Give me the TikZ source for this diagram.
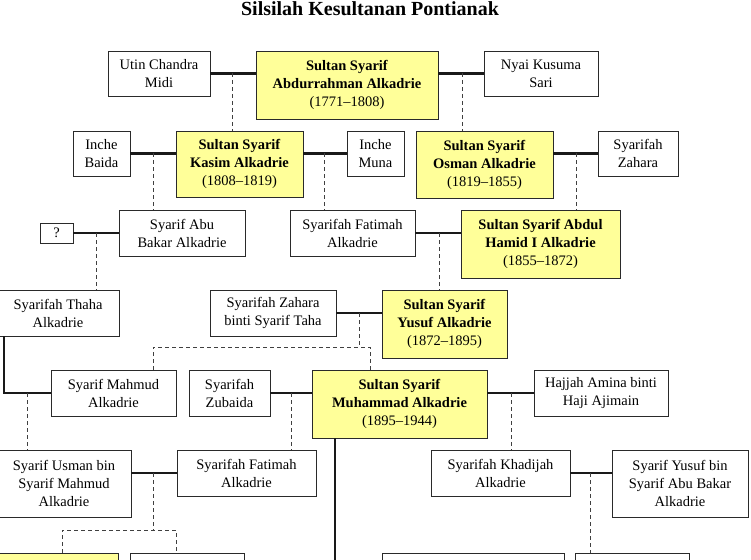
\documentclass[tikz,border=0pt]{standalone}
\usepackage{fontspec}
\setmainfont{Liberation Serif}
\definecolor{sultanyellow}{HTML}{FFFF99}
\definecolor{boxline}{HTML}{2A2A2A}
\newcommand\pbx[7]{%
  \node[#6, minimum width={#3pt-#2pt}, minimum height={#5pt-#4pt}]
    (#1) at ({(#2+#3)/2},{-(#4+#5)/2}) {#7};}
\tikzset{
  pnode/.style={draw=boxline, line width=0.9pt, fill=white, inner sep=0pt, outer sep=0pt,
    align=center, font=\fontsize{14.5}{18}\selectfont},
  sultan/.style={pnode, fill=sultanyellow},
  marr/.style={line width=2.6pt, draw=black!90},
  desc/.style={line width=0.8pt, dash pattern=on 4pt off 3pt, draw=black!75},
  ttl/.style={font=\bfseries\fontsize{20}{24}\selectfont, anchor=base}
}
\begin{document}
\begin{tikzpicture}[x=1pt,y=1pt]
\clip (0,0) rectangle (751,-559);
\fill[white] (0,0) rectangle (751,-559);
\node[ttl] (title) at (370,-15.5) {Silsilah Kesultanan Pontianak};
% row 1
\pbx{utin}{108}{210}{51}{96}{pnode}{Utin Chandra\\Midi}
\pbx{abd}{256}{438}{51}{119}{sultan}{\textbf{Sultan Syarif}\\\textbf{Abdurrahman Alkadrie}\\(1771–1808)}
\pbx{nyai}{484}{598}{51}{96}{pnode}{Nyai Kusuma\\Sari}
% row 2
\pbx{baida}{73}{130}{131}{176}{pnode}{Inche\\Baida}
\pbx{kasim}{176}{303}{131}{197}{sultan}{\textbf{Sultan Syarif}\\\textbf{Kasim Alkadrie}\\(1808–1819)}
\pbx{muna}{347}{404}{131}{176}{pnode}{Inche\\Muna}
\pbx{osman}{416}{553}{131}{198}{sultan}{\textbf{Sultan Syarif}\\\textbf{Osman Alkadrie}\\(1819–1855)}
\pbx{szahara}{598}{678}{131}{176}{pnode}{Syarifah\\Zahara}
% row 3
\pbx{q}{40}{73}{223}{243}{pnode}{?}
\pbx{abubakar}{119}{245}{210}{256}{pnode}{Syarif Abu\\Bakar Alkadrie}
\pbx{fatimahA}{290}{415}{210}{256}{pnode}{Syarifah Fatimah\\Alkadrie}
\pbx{hamid}{461}{620}{210}{278}{sultan}{\textbf{Sultan Syarif Abdul}\\\textbf{Hamid I Alkadrie}\\(1855–1872)}
% row 4
\pbx{thaha}{-3}{119}{290}{336}{pnode}{Syarifah Thaha\\Alkadrie}
\pbx{zaharat}{210}{336}{290}{336}{pnode}{Syarifah Zahara\\binti Syarif Taha}
\pbx{yusuf}{382}{507}{290}{358}{sultan}{\textbf{Sultan Syarif}\\\textbf{Yusuf Alkadrie}\\(1872–1895)}
% row 5
\pbx{mahmud}{51}{176}{370}{416}{pnode}{Syarif Mahmud\\Alkadrie}
\pbx{zubaida}{189}{270}{370}{416}{pnode}{Syarifah\\Zubaida}
\pbx{muhammad}{312}{487}{370}{438}{sultan}{\textbf{Sultan Syarif}\\\textbf{Muhammad Alkadrie}\\(1895–1944)}
\pbx{amina}{534}{668}{370}{416}{pnode}{Hajjah Amina binti\\Haji Ajimain}
% row 6
\pbx{usman}{-3}{131}{450}{517}{pnode}{Syarif Usman bin\\Syarif Mahmud\\Alkadrie}
\pbx{fatimahB}{177}{316}{450}{496}{pnode}{Syarifah Fatimah\\Alkadrie}
\pbx{khadijah}{431}{570}{450}{496}{pnode}{Syarifah Khadijah\\Alkadrie}
\pbx{yusufbin}{612}{748}{450}{517}{pnode}{Syarif Yusuf bin\\Syarif Abu Bakar\\Alkadrie}
% row 7 (cut off)
\pbx{bA}{-3}{118}{553}{600}{sultan}{}
\pbx{bB}{130}{244}{553}{600}{pnode}{}
\pbx{bC}{382}{564}{553}{600}{pnode}{}
\pbx{bD}{575}{689}{553}{600}{pnode}{}
% helper coordinates
\coordinate (m1) at (232,-73);
\coordinate (m2) at (462,-73);
\coordinate (m3) at (153,-153);
\coordinate (m4) at (324,-153);
\coordinate (m5) at (576,-153);
\coordinate (m6) at (96,-233);
\coordinate (m7) at (439,-233);
\coordinate (m8) at (359,-313);
\coordinate (m8b) at (359,-347);
\coordinate (m8l) at (153,-347);
\coordinate (m8r) at (370,-347);
\coordinate (tk) at (4,-393);
\coordinate (m9) at (27,-393);
\coordinate (m10) at (291,-393);
\coordinate (m11) at (511,-393);
\coordinate (mb) at (335,-575);
\coordinate (m12) at (153,-473);
\coordinate (m12b) at (153,-530);
\coordinate (m12l) at (62,-530);
\coordinate (m12r) at (176,-530);
\coordinate (m13) at (590,-473);
% marriages
\draw[marr] (utin.east) -- (utin.east -| abd.west);
\draw[marr] (nyai.west -| abd.east) -- (nyai.west);
\draw[marr] (baida.east) -- (baida.east -| kasim.west);
\draw[marr] (muna.west -| kasim.east) -- (muna.west);
\draw[marr] (szahara.west -| osman.east) -- (szahara.west);
\draw[marr] (q.east) -- (q.east -| abubakar.west);
\draw[marr] (fatimahA.east) -- (fatimahA.east -| hamid.west);
\draw[marr] (zaharat.east) -- (zaharat.east -| yusuf.west);
\draw[marr] (tk |- thaha.south) -- (tk) -- (tk -| mahmud.west);
\draw[marr] (zubaida.east) -- (zubaida.east -| muhammad.west);
\draw[marr] (amina.west -| muhammad.east) -- (amina.west);
\draw[marr] (mb |- muhammad.south) -- (mb);
\draw[marr] (usman.east |- fatimahB.west) -- (fatimahB.west);
\draw[marr] (khadijah.east) -- (khadijah.east -| yusufbin.west);
% descent
\draw[desc] (m1) -- (m1 |- kasim.north);
\draw[desc] (m2) -- (m2 |- osman.north);
\draw[desc] (m3) -- (m3 |- abubakar.north);
\draw[desc] (m4) -- (m4 |- fatimahA.north);
\draw[desc] (m5) -- (m5 |- hamid.north);
\draw[desc] (m6) -- (m6 |- thaha.north);
\draw[desc] (m7) -- (m7 |- yusuf.north);
\draw[desc] (m8) -- (m8b);
\draw[desc] (m8l |- mahmud.north) -- (m8l) -- (m8r) -- (m8r |- muhammad.north);
\draw[desc] (m9) -- (m9 |- usman.north);
\draw[desc] (m10) -- (m10 |- fatimahB.north);
\draw[desc] (m11) -- (m11 |- khadijah.north);
\draw[desc] (m12) -- (m12b);
\draw[desc] (m12l |- bA.north) -- (m12l) -- (m12r) -- (m12r |- bB.north);
\draw[desc] (m13) -- (m13 |- bD.north);
\end{tikzpicture}
\end{document}
